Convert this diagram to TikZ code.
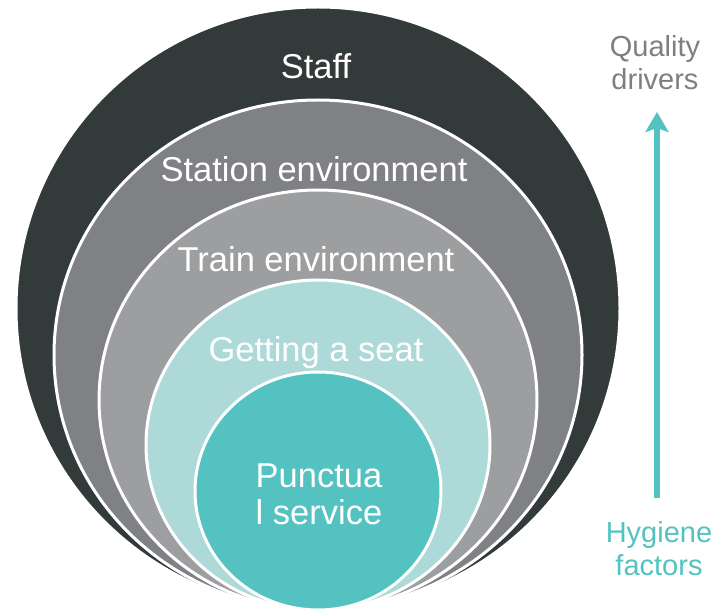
\documentclass[tikz,border=0pt]{standalone}
\usepackage{fontspec}
\setmainfont{Liberation Sans}
\usetikzlibrary{shapes.geometric,arrows.meta}

\definecolor{staffgrey}{RGB}{51,58,58}
\definecolor{stationgrey}{RGB}{128,129,132}
\definecolor{traingrey}{RGB}{157,158,160}
\definecolor{seatteal}{RGB}{173,217,216}
\definecolor{punctteal}{RGB}{84,194,193}
\definecolor{drivergrey}{RGB}{127,127,127}

\begin{document}
\begin{tikzpicture}
  [x=1pt,y=1pt,
   ring/.style={ellipse,draw=white,line width=3pt,inner sep=0pt},
   ringtext/.style={text=white,font=\fontsize{34.5}{37}\selectfont,anchor=base,align=center},
   sidetext/.style={font=\fontsize{29}{33}\selectfont,anchor=base,align=center}]
  \useasboundingbox (0,0) rectangle (715,614);
  % nested rings, all touching at the bottom
  \foreach \name/\w/\h/\cy/\col in {staff/604/603/305.5/staffgrey,
      station/528/510/259/stationgrey,train/438/420/214/traingrey,
      seat/344/330/169/seatteal,punct/246/238/123/punctteal}
    \node[ring,fill=\col,minimum width=\w,minimum height=\h] (\name) at (318,\cy) {};
  \node[ringtext] (stafftxt) at (316,535) {Staff};
  \node[ringtext] (stationtxt) at (314,432) {Station environment};
  \node[ringtext] (traintxt) at (316,342) {Train environment};
  \node[ringtext] (seattxt) at (316,252) {Getting a seat};
  \node[ringtext] (puncttxt) at (319,90) {Punctua\\l service};
  % side scale
  \node[sidetext,text=drivergrey] (quality) at (655,524) {Quality\\drivers};
  \node[sidetext,text=punctteal] (hygiene) at (659,39) {Hygiene\\factors};
  \coordinate (low) at (657,116);
  \coordinate (high) at (657,502);
  \draw[punctteal,line width=6pt,-{Stealth[length=20pt,width=23pt,inset=4pt]}] (low) -- (high);
\end{tikzpicture}
\end{document}
